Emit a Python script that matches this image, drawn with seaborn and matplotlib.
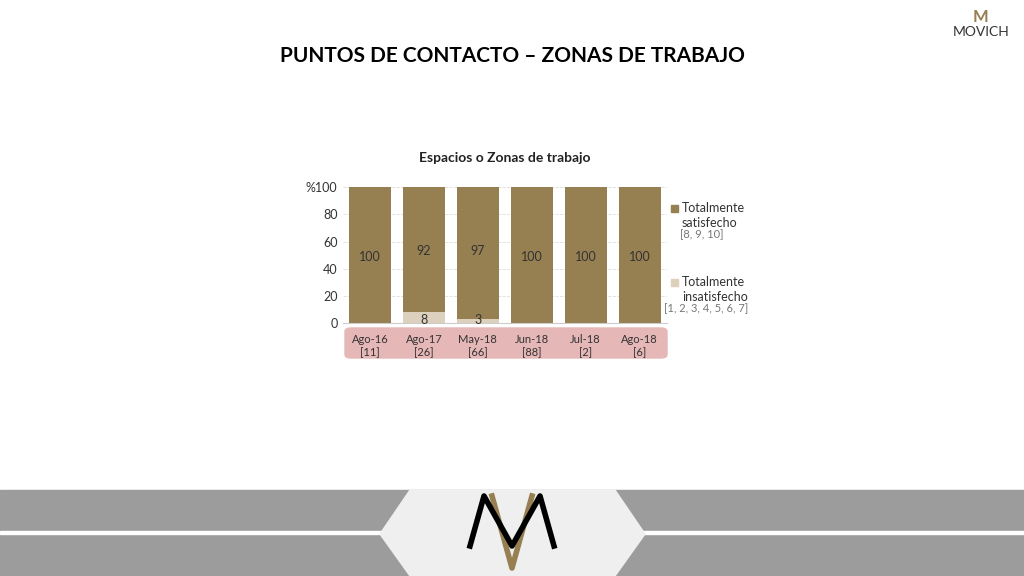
import matplotlib
matplotlib.use("Agg")
import matplotlib.pyplot as plt
import seaborn as sns
import pandas as pd
from matplotlib.patches import FancyBboxPatch, Polygon, Rectangle

categories = ["Ago-16", "Ago-17", "May-18", "Jun-18", "Jul-18", "Ago-18"]
sample_sizes = ["[11]", "[26]", "[66]", "[88]", "[2]", "[6]"]
satisfecho = [100, 92, 97, 100, 100, 100]
insatisfecho = [0, 8, 3, 0, 0, 0]
yticks = [0, 20, 40, 60, 80, 100]

df = pd.DataFrame({"cat": categories, "sat": satisfecho, "ins": insatisfecho})
df["total"] = df["sat"] + df["ins"]

BROWN = "#967f51"
BEIGE = "#ddd0bc"
plt.rcParams["font.family"] = "Lato"
fig = plt.figure(figsize=(10.24, 5.76), dpi=100)

def Y(py):
    return 1 - py / 576

# footer band
fig.patches.append(Rectangle((0, 0), 1, 86/576, transform=fig.transFigure, color="#9c9c9c", zorder=-5))
fig.patches.append(Rectangle((0, 42/576), 1, 3/576, transform=fig.transFigure, color="white", zorder=-4))
hx = [380, 410, 615, 645, 615, 410]
hy = [42, 86, 86, 42, 0, 0]
fig.patches.append(Polygon([(x/1024, y/576) for x, y in zip(hx, hy)], closed=True, transform=fig.transFigure, color="#efefef", zorder=-3))
def fl(pts, c, lw):
    fig.lines.append(plt.Line2D([p[0]/1024 for p in pts], [p[1]/576 for p in pts], transform=fig.transFigure, color=c, lw=lw, zorder=3))
fl([(492, 80), (512, 8), (532, 80)], BROWN, 4)
fl([(470, 30), (484, 80), (512, 30), (540, 80), (554, 30)], "black", 4)

fig.text(0.5, 0.903, "PUNTOS DE CONTACTO – ZONAS DE TRABAJO", ha="center", va="center",
         fontsize=15, fontweight="bold", color="black")
fig.text(0.958, 0.945, "MOVICH", ha="center", va="center", fontsize=10, color="#333333")
fig.text(0.958, 0.985, "M", ha="center", va="top", fontsize=12, fontweight="bold", color=BROWN)

fig.patches.append(FancyBboxPatch((345/1024, 218/576), 322/1024, 30/576, boxstyle="round,pad=0,rounding_size=0.006",
                                  transform=fig.transFigure, color="#e6b7b7", zorder=-2))

ax = fig.add_axes([0.335, 0.439, 0.316, 0.236])
sns.barplot(data=df, x="cat", y="total", color=BROWN, width=0.78, saturation=1, ax=ax)
sns.barplot(data=df, x="cat", y="ins", color=BEIGE, width=0.78, saturation=1, ax=ax)
for i, (s, n) in enumerate(zip(satisfecho, insatisfecho)):
    ax.text(i, 49 if s == 100 else 53, str(s), ha="center", va="center", fontsize=9, color="#333333")
    if n > 0:
        ax.text(i, 2, str(n), ha="center", va="center", fontsize=9, color="#333333")
ax.set_ylim(0, 100)
ax.set_xlim(-0.5, 5.5)
ax.set_yticks(yticks)
ax.set_yticklabels(["0", "20", "40", "60", "80", "%100"], fontsize=9, color="#333333")
ax.yaxis.grid(True, color="#dddddd", ls="--", lw=0.6)
ax.set_axisbelow(True)
ax.set_xticks(range(len(categories)))
ax.set_xticklabels([f"{c}\n{s}" for c, s in zip(categories, sample_sizes)], fontsize=8, color="#333333")
ax.tick_params(axis="x", length=0, pad=8)
ax.tick_params(axis="y", length=0, pad=4)
ax.set_xlabel(""); ax.set_ylabel("")
for sp in ["top", "right", "left"]:
    ax.spines[sp].set_visible(False)
ax.spines["bottom"].set_color("#cccccc")
ax.set_title("Espacios o Zonas de trabajo", fontsize=10, fontweight="bold", pad=18, color="#222222")

fig.patches.append(Rectangle((671/1024, Y(212)), 7/1024, 7/576, transform=fig.transFigure, color=BROWN))
fig.text(682/1024, Y(208), "Totalmente", fontsize=9, va="center", color="#333333")
fig.text(682/1024, Y(223), "satisfecho", fontsize=9, va="center", color="#333333")
fig.text(680/1024, Y(235), "[8, 9, 10]", fontsize=8, va="center", color="#777777")
fig.patches.append(Rectangle((671/1024, Y(286)), 7/1024, 7/576, transform=fig.transFigure, color=BEIGE))
fig.text(682/1024, Y(282), "Totalmente", fontsize=9, va="center", color="#333333")
fig.text(682/1024, Y(297), "insatisfecho", fontsize=9, va="center", color="#333333")
fig.text(664/1024, Y(309), "[1, 2, 3, 4, 5, 6, 7]", fontsize=8, va="center", color="#777777")

fig.savefig("out.png", dpi=100)
